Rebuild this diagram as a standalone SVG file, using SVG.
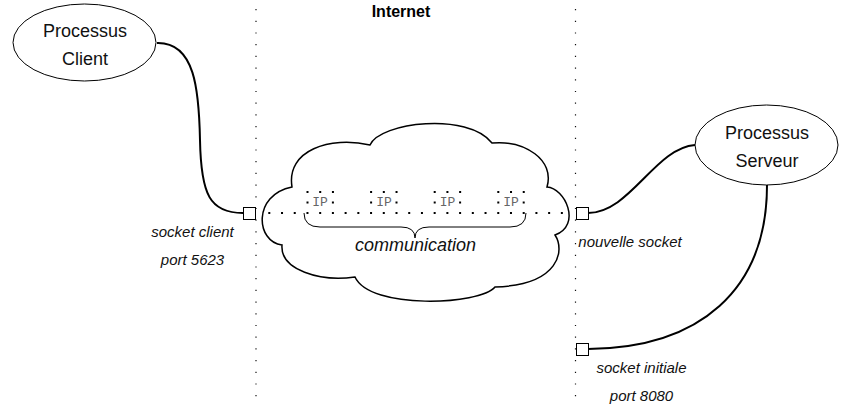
<svg xmlns="http://www.w3.org/2000/svg" width="842" height="405" viewBox="0 0 842 405">
<style>
.lbl{font-family:"Liberation Sans",Arial,sans-serif;font-style:italic;font-size:15px;fill:#111;text-anchor:middle}
.node{font-family:"Liberation Sans",Arial,sans-serif;font-size:18px;fill:#111;text-anchor:middle}
.ip{font-family:"Liberation Mono","Courier New",monospace;font-size:13px;fill:#666;text-anchor:middle}
.vdot{stroke:#111;stroke-width:1.2;stroke-dasharray:1.2 10.5;fill:none}
.hdot{stroke:#000;stroke-width:2;stroke-dasharray:2 10.72;fill:none}
.conn{stroke:#000;stroke-width:2;fill:none}
.sock{fill:#fff;stroke:#000;stroke-width:1}
</style>
<rect width="842" height="405" fill="#fff"/>
<g id="zones">
<path class="vdot" d="M256,9 V405"/>
<path class="vdot" d="M575.5,9 V405"/>
<text x="401" y="17" style="font-family:'Liberation Sans',Arial,sans-serif;font-weight:bold;font-size:16px;fill:#000" text-anchor="middle">Internet</text>
</g>
<g id="cloud">
<path d="M282,245 C256,242 252,195 292,187 C286,150 330,136 370,145 C380,122 468,112 492,143 C525,140 555,160 547,187 C565,188 582,225 555,235 C565,250 560,285 495,287 C480,305 370,310 355,277 C320,282 280,270 282,245 Z" fill="#fff" stroke="#000" stroke-width="1.5"/>
</g>
<g id="connectors">
<path class="conn" d="M157,43 C195,42 199,90 200,140 C201,195 210,213 243,213"/>
<path class="conn" d="M695,145 C655,148 630,213 588,213"/>
<path class="conn" d="M767,185 C767,290 700,348 588,349"/>
</g>
<g id="communication">
<path class="hdot" d="M268.3,213 H564"/>
<g id="ip1">
<path class="hdot" d="M306.5,192 h28"/>
<path class="hdot" d="M306.5,202.5 h28" style="stroke-dasharray:2 23.4"/>
<text class="ip" x="320" y="206">IP</text>
</g>
<g id="ip2">
<path class="hdot" d="M370.1,192 h28"/>
<path class="hdot" d="M370.1,202.5 h28" style="stroke-dasharray:2 23.4"/>
<text class="ip" x="384" y="206">IP</text>
</g>
<g id="ip3">
<path class="hdot" d="M433.7,192 h28"/>
<path class="hdot" d="M433.7,202.5 h28" style="stroke-dasharray:2 23.4"/>
<text class="ip" x="447.5" y="206">IP</text>
</g>
<g id="ip4">
<path class="hdot" d="M497.3,192 h28"/>
<path class="hdot" d="M497.3,202.5 h28" style="stroke-dasharray:2 23.4"/>
<text class="ip" x="511" y="206">IP</text>
</g>
<path d="M304,213 Q304,227 320,227 L401,227 Q415,227 415,238 Q415,227 429,227 L510,227 Q526,227 526,213" fill="none" stroke="#000" stroke-width="1"/>
<text class="lbl" x="415.5" y="251" style="font-size:18px">communication</text>
</g>
<g id="client">
<ellipse cx="84.5" cy="42.5" rx="71.5" ry="38.5" fill="#fff" stroke="#000" stroke-width="1"/>
<text class="node" x="85" y="36.5">Processus</text>
<text class="node" x="85" y="64.5">Client</text>
</g>
<g id="serveur">
<ellipse cx="766.5" cy="145" rx="71.5" ry="40" fill="#fff" stroke="#000" stroke-width="1"/>
<text class="node" x="767" y="138.5">Processus</text>
<text class="node" x="767" y="166.5">Serveur</text>
</g>
<g id="socket-client">
<rect class="sock" x="243.5" y="207.5" width="12" height="12"/>
<text class="lbl" x="192.5" y="237">socket client</text>
<text class="lbl" x="192.5" y="265">port 5623</text>
</g>
<g id="socket-nouvelle">
<rect class="sock" x="576.5" y="207.5" width="12" height="12"/>
<text class="lbl" x="630" y="247">nouvelle socket</text>
</g>
<g id="socket-initiale">
<rect class="sock" x="576.5" y="343.5" width="12" height="12"/>
<text class="lbl" x="641.5" y="373">socket initiale</text>
<text class="lbl" x="641.5" y="401">port 8080</text>
</g>
</svg>
